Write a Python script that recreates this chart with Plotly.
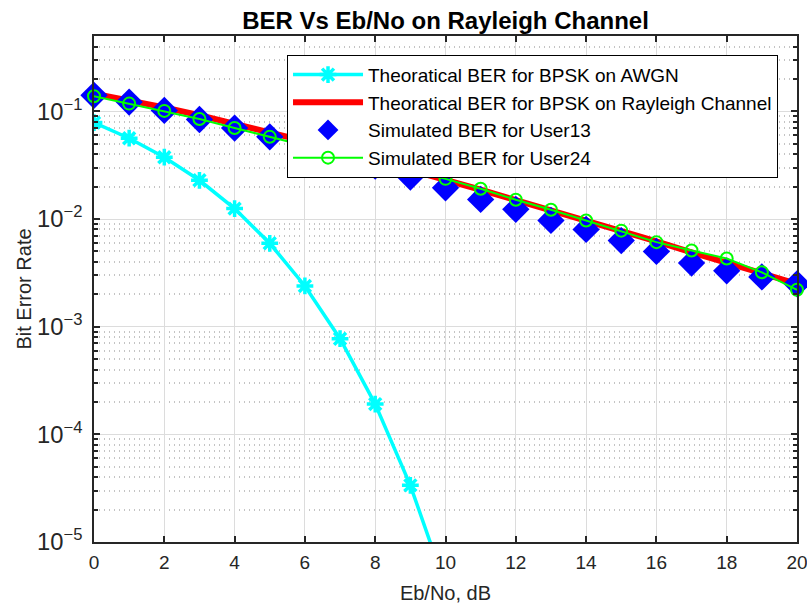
import plotly.graph_objects as go

ebno = list(range(0, 21))
ebno_awgn = list(range(0, 11))
ber_awgn = [0.0786, 0.0563, 0.0375, 0.0229, 0.0125, 0.00595, 0.00239,
            0.000773, 0.000191, 3.36e-5, 3.9e-6]
ber_rayleigh = [0.146, 0.127, 0.109, 0.092, 0.077, 0.064, 0.053, 0.0435,
                0.0355, 0.0288, 0.0233, 0.0187, 0.0150, 0.0121, 0.0097,
                0.0077, 0.0062, 0.0049, 0.0039, 0.0031, 0.0025]
ber_user13 = [0.141, 0.122, 0.102, 0.084, 0.070, 0.058, 0.048, 0.039, 0.031,
              0.0245, 0.0195, 0.0152, 0.0123, 0.0097, 0.0080, 0.0063, 0.0050,
              0.0039, 0.0033, 0.0029, 0.0025]
ber_user24 = [0.138, 0.118, 0.101, 0.085, 0.070, 0.058, 0.048, 0.040, 0.0330,
              0.0282, 0.0236, 0.0191, 0.0151, 0.0122, 0.0097, 0.0078, 0.0061,
              0.0051, 0.0043, 0.0032, 0.0022]

x_ticks = list(range(0, 21, 2))

FONT = "Liberation Sans, Arial, sans-serif"
AX = "#262626"

fig = go.Figure()
fig.add_trace(go.Scatter(
    x=ebno_awgn, y=ber_awgn, mode="lines+markers",
    name="Theoratical BER for BPSK on AWGN",
    line=dict(color="#00FFFF", width=3.5),
    marker=dict(symbol="asterisk-open", size=14, color="#00FFFF",
                line=dict(color="#00FFFF", width=3.5)),
    cliponaxis=True))
fig.add_trace(go.Scatter(
    x=ebno, y=ber_rayleigh, mode="lines",
    name="Theoratical BER for BPSK on Rayleigh Channel",
    line=dict(color="#FF0000", width=6)))
fig.add_trace(go.Scatter(
    x=ebno, y=ber_user13, mode="markers",
    name="Simulated BER for User13",
    marker=dict(symbol="diamond", size=21, color="#0000FF",
                line=dict(width=0)),
    cliponaxis=False))
fig.add_trace(go.Scatter(
    x=ebno, y=ber_user24, mode="lines+markers",
    name="Simulated BER for User24",
    line=dict(color="#00FF00", width=2),
    marker=dict(symbol="circle-open", size=12, color="#00FF00",
                line=dict(color="#00FF00", width=2)),
    cliponaxis=False))

fig.update_layout(
    width=807, height=605,
    margin=dict(l=94, r=10, t=36, b=63),
    paper_bgcolor="white", plot_bgcolor="white",
    font=dict(family=FONT, color=AX, size=19),
    title=dict(text="<b>BER Vs Eb/No on Rayleigh Channel</b>",
               xref="paper", x=0.5, xanchor="center", y=0.966, yanchor="middle",
               font=dict(size=24, color="black", family=FONT)),
    showlegend=True,
    legend=dict(x=0.973, xanchor="right", y=0.963, yanchor="top",
                bgcolor="white", bordercolor="black", borderwidth=1,
                font=dict(size=19, color="black", family=FONT),
                itemwidth=70, tracegroupgap=0),
)

fig.update_xaxes(
    range=[0, 20], tickvals=x_ticks, ticktext=[str(v) for v in x_ticks],
    automargin=False, ticklabeloverflow="allow",
    showline=True, linecolor=AX, linewidth=1.5, mirror="allticks",
    ticks="inside", ticklen=6, tickwidth=1.5, tickcolor=AX,
    showgrid=True, gridcolor="#dcdcdc", gridwidth=1, zeroline=False,
    tickfont=dict(size=19, color=AX), ticklabelstandoff=2,
    title=dict(text="Eb/No, dB", font=dict(size=20, color=AX), standoff=14),
)
fig.update_yaxes(
    type="log", range=[-5, -0.30], dtick=1, tick0=0,
    exponentformat="power", showexponent="all",
    automargin=False, ticklabeloverflow="allow",
    showline=True, linecolor=AX, linewidth=1.5, mirror="allticks",
    ticks="inside", ticklen=6, tickwidth=1.5, tickcolor=AX,
    showgrid=True, gridcolor="#dcdcdc", gridwidth=1, zeroline=False,
    tickfont=dict(size=19, color=AX), ticklabelstandoff=6,
    minor=dict(dtick="D1", ticks="inside", ticklen=4, tickwidth=1.5,
               tickcolor=AX, showgrid=True, gridcolor="#c4c4c4",
               griddash="1px,4px", gridwidth=1.5),
    title=dict(text="Bit Error Rate", font=dict(size=20, color=AX), standoff=0),
)

fig.write_html("out.html",
               config={"displayModeBar": False},
               post_script="document.body.style.margin='0px';")
